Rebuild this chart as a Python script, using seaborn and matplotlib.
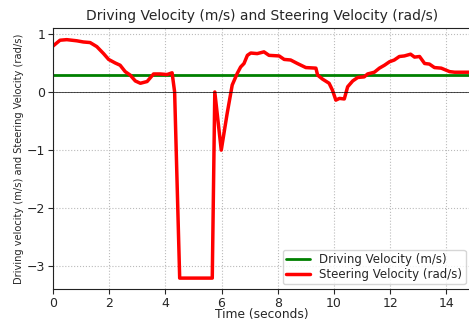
import matplotlib
matplotlib.use("Agg")
import matplotlib.pyplot as plt
import seaborn as sns
import pandas as pd

time_s = [0.0, 0.25, 0.49, 0.85, 1.08, 1.32, 1.56, 1.80, 1.98, 2.21, 2.39, 2.57, 2.75,
          2.93, 3.11, 3.35, 3.58, 3.82, 4.06, 4.24, 4.33, 4.51, 5.67, 5.76, 5.99, 6.20,
          6.38, 6.56, 6.68, 6.80, 6.92, 7.04, 7.27, 7.51, 7.69, 8.05, 8.23, 8.46, 8.70,
          9.00, 9.36, 9.42, 9.60, 9.83, 9.95, 10.07, 10.20, 10.37, 10.49, 10.67, 10.85,
          11.08, 11.20, 11.44, 11.62, 11.80, 11.98, 12.15, 12.33, 12.51, 12.73, 12.87,
          13.05, 13.23, 13.40, 13.58, 13.82, 14.12, 14.30, 14.86]
steering = [0.79, 0.89, 0.90, 0.88, 0.86, 0.85, 0.78, 0.66, 0.56, 0.50, 0.46, 0.35, 0.29,
            0.19, 0.15, 0.18, 0.31, 0.31, 0.30, 0.33, 0.00, -3.20, -3.20, 0.00, -1.00, -0.37,
            0.12, 0.32, 0.43, 0.49, 0.63, 0.67, 0.66, 0.69, 0.63, 0.62, 0.56, 0.55, 0.49,
            0.42, 0.41, 0.29, 0.22, 0.15, 0.03, -0.14, -0.11, -0.12, 0.09, 0.19, 0.25,
            0.26, 0.31, 0.34, 0.41, 0.46, 0.52, 0.55, 0.61, 0.62, 0.65, 0.60,
            0.61, 0.49, 0.48, 0.42, 0.41, 0.35, 0.34, 0.34]
drive_time = [0.0, 14.86]
driving = [0.3, 0.3]

sns.set_style("ticks")
plt.rcParams['font.family'] = ['DejaVu Sans']

fig = plt.figure(figsize=(4.69, 3.22), dpi=100)
ax = fig.add_axes([0.113, 0.102, 0.89, 0.811])

df_d = pd.DataFrame({"t": drive_time, "v": driving})
df_s = pd.DataFrame({"t": time_s, "v": steering})
sns.lineplot(data=df_d, x="t", y="v", ax=ax, color="green", linewidth=2,
             label="Driving Velocity (m/s)")
sns.lineplot(data=df_s, x="t", y="v", ax=ax, color="red", linewidth=2.5,
             label="Steering Velocity (rad/s)")
ax.axhline(0, color="black", linewidth=0.6, alpha=0.8)

ax.set_xlim(0, 14.86)
ax.set_ylim(-3.39, 1.10)
ax.set_xticks([0, 2, 4, 6, 8, 10, 12, 14])
ax.set_yticks([-3, -2, -1, 0, 1])
ax.grid(True, linestyle=":", color="#bbbbbb", linewidth=0.8)
ax.set_title("Driving Velocity (m/s) and Steering Velocity (rad/s)", fontsize=10)
ax.set_xlabel("Time (seconds)", fontsize=8.8, labelpad=-1)
ax.set_ylabel("Driving velocity (m/s) and Steering Velocity (rad/s)", fontsize=7.1, labelpad=2)
ax.tick_params(labelsize=9, pad=2)
for s in ax.spines.values():
    s.set_color("#222222")
ax.legend(loc="lower right", fontsize=8.5, frameon=True, labelspacing=0.15,
          borderpad=0.3, borderaxespad=0.4)

fig.savefig("out.png", dpi=100)
